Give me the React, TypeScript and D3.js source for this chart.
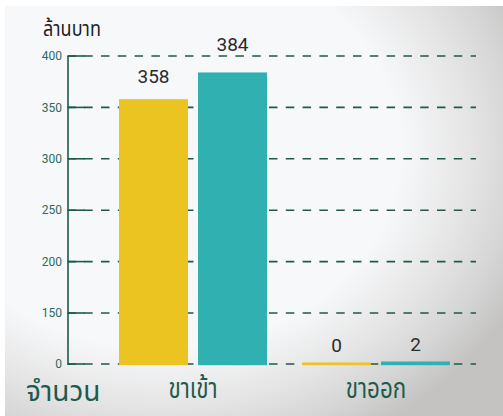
import * as d3 from 'd3';
import React from 'react';

// categories and series
const categories = ['ขาเข้า', 'ขาออก'];
const seriesNames = ['ปี 1', 'ปี 2'];
const seriesColors = ['#ebc421', '#30b0b1'];
const values = [
  [358, 384],
  [0, 2],
];
const tickValues = [0, 150, 200, 250, 300, 350, 400];
const unitLabel = 'ล้านบาท';
const axisTitle = 'จำนวน';

const W = 503;
const H = 416;
const thaiFont = '"Noto Sans Thai", "Noto Sans", "DejaVu Sans", sans-serif';
const numFont = 'Roboto, "Liberation Sans", sans-serif';

// condensed thai text (the original uses a narrow thai face)
function ThaiText({ x, y, size, sx, anchor, fill, children }: any) {
  return (
    <g transform={`translate(${x},${y}) scale(${sx},1)`}>
      <text x={0} y={0} textAnchor={anchor} fontFamily={thaiFont} fontSize={size} fill={fill}>
        {children}
      </text>
    </g>
  );
}

export default function App() {
  // axis is broken between 0 and 150, so piecewise linear
  const y = d3.scaleLinear().domain([0, 150, 400]).range([364, 313, 56]);
  const x0 = d3.scaleBand().domain(categories).range([119, 450]).paddingInner(35 / 183).paddingOuter(0);
  const x1 = d3.scaleBand().domain(seriesNames).range([0, x0.bandwidth()]).paddingInner(10 / 79);

  const axisX = 68;
  const gridEnd = 476;

  return (
    <div style={{ position: 'fixed', left: 0, top: 0 }}>
      <svg width={W} height={H} style={{ display: 'block' }}>
        <defs>
          <radialGradient
            id="bg"
            gradientUnits="userSpaceOnUse"
            cx={0}
            cy={0}
            r={1}
            gradientTransform="translate(160,150) scale(400,330)"
          >
            <stop offset="0" stopColor="#f7f8fa" />
            <stop offset="0.6" stopColor="#f7f8fa" />
            <stop offset="0.78" stopColor="#e4e4e4" />
            <stop offset="0.9" stopColor="#d4d4d4" />
            <stop offset="1" stopColor="#c4c3c2" />
          </radialGradient>
        </defs>
        <rect x={0} y={0} width={W} height={H} fill="#ffffff" />
        <rect x={5} y={6} width={W - 5} height={H - 6} fill="url(#bg)" />

        {/* grid + ticks */}
        <g>
          {tickValues.map((t) => (
            <g key={t}>
              <line
                x1={axisX - 0.6}
                x2={gridEnd}
                y1={y(t)}
                y2={y(t)}
                stroke="#1d5a4b"
                strokeWidth={1.6}
                strokeDasharray="8.5 8.3"
              />
              <line x1={axisX} x2={axisX + 17} y1={y(t)} y2={y(t)} stroke="#1d5a4b" strokeWidth={1.6} />
              <text
                x={axisX - 6}
                y={y(t)}
                dy="0.35em"
                textAnchor="end"
                fontFamily={numFont}
                fontSize={12}
                fill="#2e6b5e"
              >
                {t}
              </text>
            </g>
          ))}
          <line x1={axisX} x2={axisX} y1={y(400)} y2={y(0) + 0.8} stroke="#1d5a4b" strokeWidth={1.6} />
        </g>

        {/* bars */}
        {categories.map((c, ci) => (
          <g key={c} transform={`translate(${x0(c)},0)`}>
            {seriesNames.map((s, si) => {
              const v = values[ci][si];
              const top = Math.min(y(v), y(0) - 1.5 - si);
              return (
                <g key={s}>
                  <rect
                    x={x1(s)}
                    y={top}
                    width={x1.bandwidth()}
                    height={y(0) + 1.2 - top}
                    fill={seriesColors[si]}
                  />
                  <text
                    x={(x1(s) ?? 0) + x1.bandwidth() / 2}
                    y={v > 100 ? y(v) - 16 - (v - 358) * 0.2 : y(v) - 12}
                    textAnchor="middle"
                    fontFamily={numFont}
                    fontSize={19}
                    fill="#2b2b2b"
                  >
                    {v}
                  </text>
                </g>
              );
            })}
            <ThaiText x={x0.bandwidth() / 2} y={398} size={28} sx={0.8} anchor="middle" fill="#1d5b4d">
              {c}
            </ThaiText>
          </g>
        ))}

        <ThaiText x={43} y={36} size={22} sx={0.82} anchor="start" fill="#222">
          {unitLabel}
        </ThaiText>
        <ThaiText x={26} y={401} size={28} sx={1} anchor="start" fill="#1d5b4d">
          {axisTitle}
        </ThaiText>
      </svg>
    </div>
  );
}
